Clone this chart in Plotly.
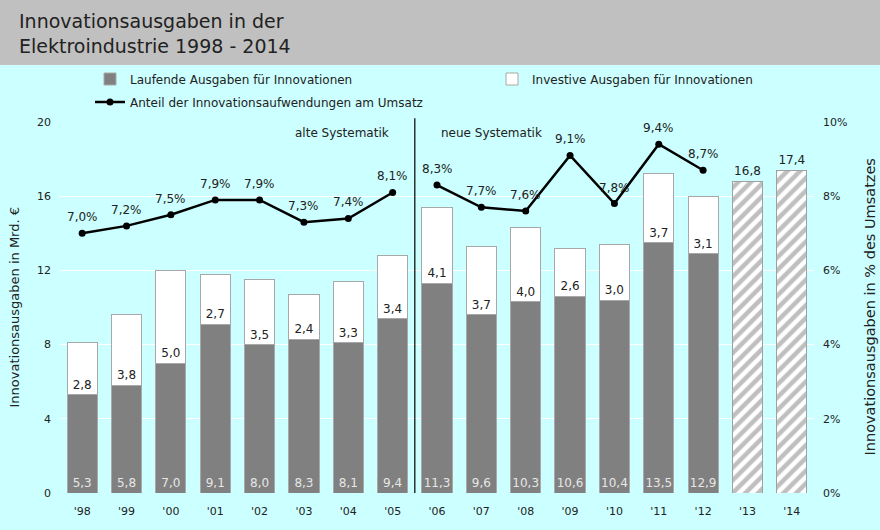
import plotly.graph_objects as go

# ---- data ----
years = ["'98", "'99", "'00", "'01", "'02", "'03", "'04", "'05", "'06", "'07",
         "'08", "'09", "'10", "'11", "'12", "'13", "'14"]
laufende = [5.3, 5.8, 7.0, 9.1, 8.0, 8.3, 8.1, 9.4, 11.3, 9.6, 10.3, 10.6, 10.4, 13.5, 12.9, None, None]
investive = [2.8, 3.8, 5.0, 2.7, 3.5, 2.4, 3.3, 3.4, 4.1, 3.7, 4.0, 2.6, 3.0, 3.7, 3.1, None, None]
prognose = [None] * 15 + [16.8, 17.4]
years_alt = years[:8]
anteil_alt = [7.0, 7.2, 7.5, 7.9, 7.9, 7.3, 7.4, 8.1]
years_neu = years[8:15]
anteil_neu = [8.3, 7.7, 7.6, 9.1, 7.8, 9.4, 8.7]

def de(v, suffix=""):
    return "" if v is None else f"{v:.1f}".replace(".", ",") + suffix

FONT = "DejaVu Sans"
CYAN = "#CCFFFF"
HEADER = "#C0C0C0"
TXT = "#222222"

ML, MR, MT, MB = 60, 66, 122, 37
W, H = 880, 530
plot_w = W - ML - MR
plot_h = H - MT - MB

def px_x(px):
    return (px - ML) / plot_w

def px_y(py):
    return 1 + (MT - py) / plot_h

fig = go.Figure()

fig.add_trace(go.Bar(
    x=years, y=laufende, name="Laufende Ausgaben für Innovationen",
    marker=dict(color="#808080", line=dict(color="#a8a8a8", width=1)),
    text=[de(v) for v in laufende], textposition="inside", insidetextanchor="start",
    textangle=0, constraintext="none",
    textfont=dict(color="#e6e6e6", size=12, family=FONT),
    legend="legend",
))
fig.add_trace(go.Bar(
    x=years, y=investive, name="Investive Ausgaben für Innovationen",
    marker=dict(color="white", line=dict(color="#a8a8a8", width=1)),
    text=[de(v) for v in investive], textposition="inside", insidetextanchor="start",
    textangle=0, constraintext="none",
    textfont=dict(color=TXT, size=12, family=FONT),
    legend="legend2",
))
fig.add_trace(go.Bar(
    x=years, y=prognose, name="Prognose", showlegend=False,
    marker=dict(color="white", line=dict(color="#a0a0a0", width=1),
                pattern=dict(shape="/", fgcolor="#7f7f7f", bgcolor="white", size=9, solidity=0.5)),
    text=[de(v) for v in prognose], textposition="outside", cliponaxis=False,
    textangle=0, constraintext="none",
    textfont=dict(color=TXT, size=12, family=FONT),
))
fig.add_trace(go.Scatter(
    x=years_alt, y=anteil_alt, yaxis="y2", mode="lines+markers",
    name="Anteil der Innovationsaufwendungen am Umsatz",
    line=dict(color="black", width=2.5), marker=dict(color="black", size=7),
    legend="legend3",
))
fig.add_trace(go.Scatter(
    x=years_neu, y=anteil_neu, yaxis="y2", mode="lines+markers", showlegend=False,
    line=dict(color="black", width=2.5), marker=dict(color="black", size=7),
))

annotations = []
for xs, ys in ((years_alt, anteil_alt), (years_neu, anteil_neu)):
    for xv, yv in zip(xs, ys):
        annotations.append(dict(x=xv, y=yv, xref="x", yref="y2", text=de(yv, "%"),
                                showarrow=False, yshift=16,
                                font=dict(size=12, color=TXT, family=FONT)))
annotations.append(dict(x=7.5, y=19.4, xref="x", yref="y", text="alte Systematik",
                        xanchor="right", xshift=-24, showarrow=False,
                        font=dict(size=12, color=TXT, family=FONT)))
annotations.append(dict(x=7.5, y=19.4, xref="x", yref="y", text="neue Systematik",
                        xanchor="left", xshift=24, showarrow=False,
                        font=dict(size=12, color=TXT, family=FONT)))
# title
annotations.append(dict(x=px_x(17), y=px_y(8), xref="paper", yref="paper",
                        xanchor="left", yanchor="top", align="left", showarrow=False,
                        text="Innovationsausgaben in der<br>Elektroindustrie 1998 - 2014",
                        font=dict(size=19, color=TXT, family=FONT)))
# axis titles
annotations.append(dict(x=px_x(14), y=0.5, xref="paper", yref="paper", textangle=-90,
                        xanchor="center", yanchor="middle",
                        showarrow=False, text="Innovationsausgaben in Mrd. €",
                        font=dict(size=13, color=TXT, family=FONT)))
annotations.append(dict(x=px_x(869), y=0.5, xref="paper", yref="paper", textangle=-90,
                        xanchor="center", yanchor="middle",
                        showarrow=False, text="Innovationsausgaben in % des Umsatzes",
                        font=dict(size=14.5, color=TXT, family=FONT)))

shapes = [
    dict(type="rect", xref="paper", yref="paper", x0=-1, x1=2,
         y0=px_y(65), y1=2, fillcolor=HEADER, line=dict(width=0), layer="below"),
    dict(type="line", xref="x", yref="paper", x0=7.5, x1=7.5, y0=0, y1=1.01,
         line=dict(color="black", width=1.2)),
]

leg_common = dict(orientation="h", bgcolor="rgba(0,0,0,0)", xanchor="left", yanchor="middle",
                  font=dict(size=12, color=TXT, family=FONT))

fig.update_layout(
    width=W, height=H,
    margin=dict(l=ML, r=MR, t=MT, b=MB, autoexpand=False),
    paper_bgcolor=CYAN, plot_bgcolor=CYAN,
    barmode="stack", bargap=0.32,
    font=dict(family=FONT, color=TXT, size=12),
    xaxis=dict(type="category", range=[-0.5, len(years) - 0.5], showgrid=False, ticks="",
               ticklabelstandoff=10, automargin=False,
               tickfont=dict(size=11, color=TXT, family=FONT)),
    yaxis=dict(range=[0, 20], dtick=4, showgrid=True, gridcolor="white", gridwidth=1,
               zeroline=False, ticks="", ticklabelstandoff=8, automargin=False,
               tickfont=dict(size=11, color=TXT, family=FONT)),
    yaxis2=dict(range=[0, 10], dtick=2, overlaying="y", side="right", showgrid=False,
                zeroline=False, ticksuffix="%", ticks="", ticklabelstandoff=8,
                automargin=False, tickfont=dict(size=11, color=TXT, family=FONT)),
    legend=dict(x=px_x(90), y=px_y(79), **leg_common),
    legend2=dict(x=px_x(492), y=px_y(79), **leg_common),
    legend3=dict(x=px_x(90), y=px_y(102), **leg_common),
    annotations=annotations,
    shapes=shapes,
)

fig.write_html("out.html")
